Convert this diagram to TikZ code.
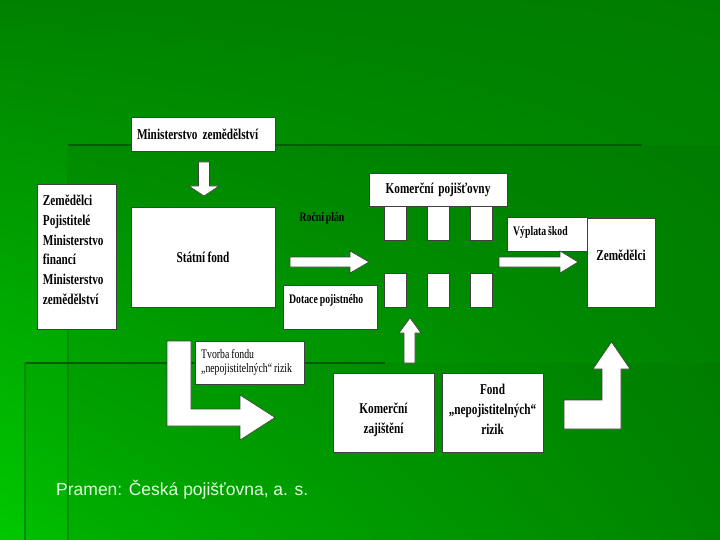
\documentclass[tikz,border=0pt]{standalone}
\usepackage{fontspec}
\newfontfamily\boxfont[FakeStretch=0.75, WordSpace=0.8]{Liberation Serif}
\newfontfamily\capfont{Liberation Sans}
\usetikzlibrary{positioning,shadings}

\definecolor{bgtl}{RGB}{0,130,0}
\definecolor{bgtr}{RGB}{0,125,0}
\definecolor{bgbl}{RGB}{0,200,0}
\definecolor{bgbr}{RGB}{0,145,0}
\definecolor{rulegreen}{RGB}{0,92,0}
\definecolor{capcol}{RGB}{228,255,228}

\begin{document}
\begin{tikzpicture}[x=1pt,y=-1pt,
  box/.style={draw=black!75, fill=white, line width=.6pt, inner sep=0pt},
  blk/.style={draw=black!75, fill=white, line width=.6pt, line join=miter},
  bf/.style={font=\boxfont\bfseries\fontsize{15}{19.8}\selectfont, inner sep=0pt},
  sm/.style={font=\boxfont\bfseries\fontsize{13}{16}\selectfont, inner sep=0pt},
  rg/.style={font=\boxfont\fontsize{13}{14}\selectfont, inner sep=0pt}]
  \useasboundingbox (0,0) rectangle (720,540);
  \shade[upper left=bgtl, upper right=bgtr, lower left=bgbl, lower right=bgbr] (0,0) rectangle (720,540);
  \fill[black, opacity=.05] (68,145) rectangle (720,540);
  \fill[black, opacity=.04] (25,363) rectangle (720,540);
  \draw[rulegreen, line width=2.5pt] (68,145) -- (642,145);
  \draw[rulegreen!70!green, line width=2pt] (68,145) -- (68,540);
  \draw[rulegreen, line width=2.5pt] (25,363) -- (385,363);
  \draw[rulegreen!70!green, line width=2pt] (25,363) -- (25,540);

  \node[box, bf, minimum height=34, text width=132, inner xsep=6, align=left] (minz) at (203,134) {Ministerstvo zemědělství};
  \node[box, minimum width=79, minimum height=145] (ucast) at (76.5,256.5) {};
  \node[bf, align=left, anchor=north west] (ucast-t) at ([shift={(6,11)}]ucast.north west) {Zemědělci\\Pojistitelé\\Ministerstvo\\financí\\Ministerstvo\\zemědělství};
  \node[box, bf, minimum width=144, minimum height=100] (statni) at (203,257) {Státní fond};
  \node[sm] (plan) at (322,218) {Roční plán};
  \node[box, minimum width=94, minimum height=44] (dotace) at (330,307) {};
  \node[sm, anchor=base west] (dotace-t) at (289,303) {Dotace pojistného};
  \node[box, bf, minimum width=138, minimum height=33] (kompoj) at (438,189.5) {Komerční~ pojišťovny};
  \node[box, minimum width=22, minimum height=34] (pt1) at (395,223) {};
  \node[box, minimum width=22, minimum height=34] (pt2) at (438,223) {};
  \node[box, minimum width=22, minimum height=34] (pt3) at (481.5,223) {};
  \node[box, minimum width=22, minimum height=34] (pb1) at (395,290) {};
  \node[box, minimum width=22, minimum height=34] (pb2) at (438,290) {};
  \node[box, minimum width=22, minimum height=34] (pb3) at (481.5,290) {};
  \node[box, minimum width=80, minimum height=34] (vyplata) at (547,234) {};
  \node[sm, anchor=base west] (vyplata-t) at (513,236) {Výplata škod};
  \node[box, minimum width=68, minimum height=89] (zem) at (621,262.5) {};
  \node[bf, anchor=base] (zem-t) at (621,260) {Zemědělci};
  \node[box, minimum width=109, minimum height=43] (tvorba) at (249.5,362.5) {};
  \node[rg, align=left, anchor=north west] (tvorba-t) at (201,349) {Tvorba fondu\\„nepojistitelných“ rizik};
  \node[box, minimum width=101, minimum height=79] (komzaj) at (383.5,412.5) {};
  \node[bf, align=center] (komzaj-t) at (383.5,420) {Komerční\\zajištění};
  \node[box, minimum width=101, minimum height=79] (fond) at (492.5,412.5) {};
  \node[bf, align=center] (fond-t) at (492.5,409) {Fond\\„nepojistitelných“\\rizik};

  \draw[blk] (198.5,162) -- (209.5,162) -- (209.5,186) -- (219,186) -- (204,196) -- (189,186) -- (198.5,186) -- cycle;
  \draw[blk] (290,257) -- (350,257) -- (350,251) -- (369,262) -- (350,273) -- (350,267) -- (290,267) -- cycle;
  \draw[blk] (499,257) -- (560,257) -- (560,251) -- (578,262) -- (560,273) -- (560,267) -- (499,267) -- cycle;
  \draw[blk] (404,363) -- (404,333) -- (399,333) -- (410,318) -- (421,333) -- (415,333) -- (415,363) -- cycle;
  \draw[blk] (167,341) -- (191,341) -- (191,409) -- (240,409) -- (240,395) -- (275,417.5) -- (240,440) -- (240,426) -- (167,426) -- cycle;
  \draw[blk] (564,400) -- (602,400) -- (602,369) -- (593,369) -- (611.5,342) -- (630,369) -- (621,369) -- (621,429) -- (564,429) -- cycle;

  \node[font=\capfont\fontsize{17.5}{20}\selectfont, text=capcol, anchor=base west, inner sep=0pt] (pramen) at (56,495) {Pramen: Česká pojišťovna, a. s.};
\end{tikzpicture}
\end{document}
